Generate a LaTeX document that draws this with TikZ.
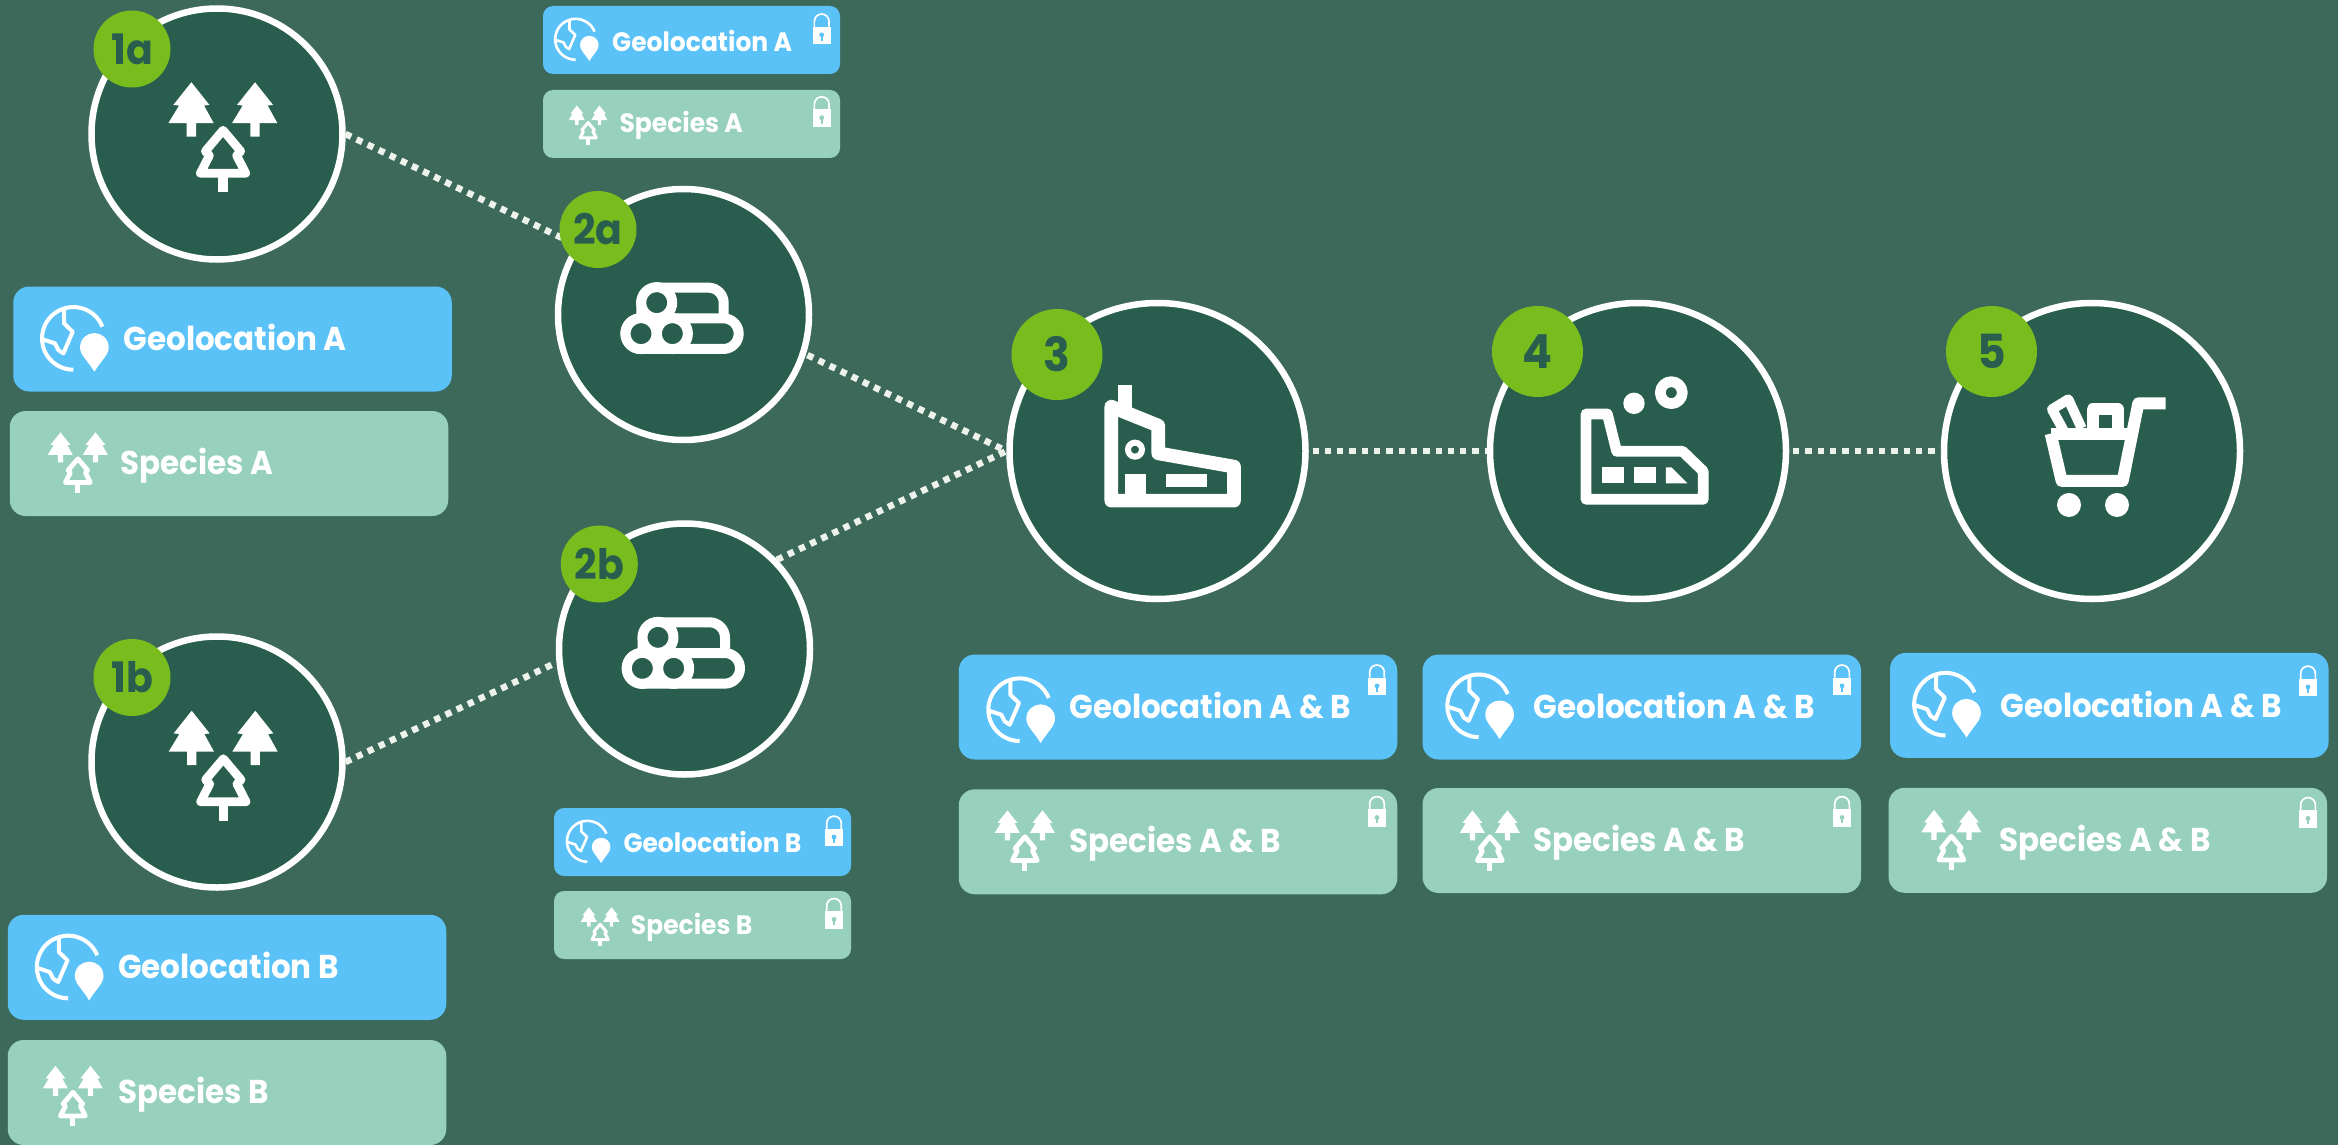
\documentclass[tikz,border=0pt]{standalone}
\usepackage{fontspec}
\setmainfont{Poppins}[FakeStretch=0.94]
\definecolor{bgc}{HTML}{3D695B}
\definecolor{darkc}{HTML}{295E4F}
\definecolor{badgec}{HTML}{78BC1E}
\definecolor{geoc}{HTML}{5BC2F8}
\definecolor{specc}{HTML}{97D1BD}
\definecolor{dotc}{HTML}{EDF3EA}
\tikzset{
  stage/.style={circle,draw=white,fill=darkc,line width=6.5pt,inner sep=0pt,minimum size=251pt,outer sep=3pt},
  stageb/.style={stage,minimum size=296pt},
  badge/.style={circle,fill=badgec,text=darkc,inner sep=0pt,minimum size=77pt,font=\fontsize{42}{42}\selectfont\bfseries},
  badgeb/.style={badge,minimum size=91pt,font=\fontsize{47}{47}\selectfont\bfseries},
  bigtag/.style={rectangle,rounded corners=16pt,minimum width=438.5pt,minimum height=105pt,inner sep=0pt},
  smalltag/.style={rectangle,rounded corners=10pt,minimum width=297pt,minimum height=68pt,inner sep=0pt},
  geotag/.style={fill=geoc},
  spectag/.style={fill=specc},
  bigtext/.style={anchor=base west,inner sep=0pt,text=white,font=\fontsize{33}{33}\selectfont\bfseries},
  smalltext/.style={anchor=base west,inner sep=0pt,text=white,font=\fontsize{26.6}{26.6}\selectfont\bfseries},
  dotline/.style={draw=dotc,line width=6.5pt,dash pattern=on 6.3pt off 6pt},
  iconfill/.style={fill=white,draw=none},
  iconline/.style={draw=white,line join=round,fill=none},
}
\newcommand\solidtree[1]{\fill[white,shift={(#1,0)}] (0,-162)--(54,-95)--(38,-93)--(67,-41)--(14,-41)--(14,-1)--(-14,-1)--(-14,-41)--(-69,-41)--(-37,-93)--(-54,-95)--cycle;}
% trees: centre x, centre y, scale
\newcommand\treeicon[3]{\begin{scope}[shift={(#1,#2)},x={#3*0.3333pt},y={-#3*0.338pt}]
  \solidtree{-94}\solidtree{97}
  \draw[iconline,line width={#3*8.7pt}] (1,-20)--(54,42)--(42,55)--(69,107)--(-67,107)--(-40,55)--(-52,42)--cycle;
  \fill[white] (-13,112) rectangle (15,163);
\end{scope}}
% globe: centre x, centre y, scale
\newcommand\globeicon[3]{\begin{scope}[shift={(#1,#2)},x={#3*0.3333pt},y={-#3*0.3333pt}]
  \draw[iconline,line width={#3*4pt}] plot[domain=22:270,samples=40] ({-4+94*cos(\x)},{-94*sin(\x)});
  \draw[iconline,line width={#3*4pt}] (-32,-88)--(-32,-45)--(-6,-20)--(-34,45)--(-49,35)--(-59,15)--(-96,3);
  \fill[white] (59,100) .. controls (38,65) and (16,50) .. (16,27) .. controls (16,0) and (38,-16) .. (59,-16) .. controls (80,-16) and (102,0) .. (102,27) .. controls (102,50) and (80,65) .. (59,100) -- cycle;
\end{scope}}
% lock: centre x, centre y, keyhole colour
\newcommand\lockicon[3]{\begin{scope}[shift={(#1,#2)},x=0.3333pt,y=-0.3333pt]
  \draw[iconline,line width=1.7pt] (-22,-7.5)--(-22,-23.5) .. controls (-22,-36) and (-12,-45.5) .. (0,-45.5) .. controls (12,-45.5) and (22,-36) .. (22,-23.5)--(22,-7.5);
  \fill[white] (-27.5,-7.5) rectangle (27.5,45.5);
  \fill[#3] (0,17) circle[radius=2.4pt];
  \fill[#3] (-3.5,17) rectangle (3.5,35);
\end{scope}}
\newcommand\logsicon[2]{\begin{scope}[shift={(#1,#2)},x=0.3333pt,y=-0.3333pt]
  \begin{scope}[shift={(-455,-955)}]
  \draw[iconline,line width=10pt,rounded corners=15.3pt] (334,955)--(334,863)--(581,863)--(581,955);
  \draw[iconline,line width=10pt,rounded corners=15.3pt] (456,955)--(626,955)--(626,1047)--(286,1047)--(286,955)--cycle;
  \draw[iconline,line width=10pt,fill=darkc] (380,908) circle[radius=15.5pt];
  \draw[iconline,line width=10pt,fill=darkc] (333,1001) circle[radius=15.5pt];
  \draw[iconline,line width=10pt,fill=darkc] (427,1001) circle[radius=15.5pt];
  \end{scope}
\end{scope}}
\begin{document}
\begin{tikzpicture}[x=1pt,y=-1pt]
\fill[bgc] (0,0) rectangle (2338,1145);
\useasboundingbox (0,0) rectangle (2338,1145);
% stages
\node[stage] (c1a) at (217,134) {};
\node[stage] (c1b) at (217,762) {};
\node[stage] (c2a) at (683.5,314.5) {};
\node[stage] (c2b) at (684.5,649) {};
\node[stageb] (c3) at (1157.5,451) {};
\node[stageb] (c4) at (1638,451) {};
\node[stageb] (c5) at (2092,451) {};
% connectors
\draw[dotline] (c1a.0) -- (c2a.147);
\draw[dotline] (c1b.0) -- (c2b.186);
\draw[dotline,shorten <=2pt] (c2a.-18) -- (c3.180);
\draw[dotline] (c2b.44) -- (c3.180);
\draw[dotline,shorten <=4pt] (c3.0) -- (c4.180);
\draw[dotline,shorten <=4pt] (c4.0) -- (c5.180);
% badges
\node[badge] (b1a) at (132,49) {1a};
\node[badge] (b1b) at (132,677.5) {1b};
\node[badge] (b2a) at (598,229.5) {2a};
\node[badge] (b2b) at (599.3,564) {2b};
\node[badgeb] (b3) at (1057,354.5) {3};
\node[badgeb] (b4) at (1537.5,351.5) {4};
\node[badgeb] (b5) at (1991.5,351.5) {5};
% tree icons in stages
\treeicon{222.7}{137}{1}
\treeicon{223}{765.5}{1}
% logs
\logsicon{681.7}{318.3}
\logsicon{683}{653}
% factory
\begin{scope}[shift={(980,280)},x=0.3333pt,y=-0.3333pt]
  \draw[iconline,line width=13.7pt] (394,380)--(535,437)--(535,520)--(762,560)--(762,662)--(394,662)--cycle;
  \fill[white] (414,315) rectangle (455,395);
  \draw[iconline,line width=6pt] (465,509) circle[radius=7pt];
  \fill[white] (435,582) rectangle (497,645);
  \fill[white] (557,582) rectangle (680,622);
\end{scope}
% sawmill / mill
\begin{scope}[shift={(1460,280)},x=0.3333pt,y=-0.3333pt]
  \draw[iconline,line width=10.7pt] (378,402)--(442,402)--(470,514)--(668,514)--(730,574)--(730,658)--(378,658)--cycle;
  \draw[iconline,line width=10.7pt] (634,338) circle[radius=11pt];
  \fill[white] (522,370) circle[radius=10.7pt];
  \fill[white] (425,562) rectangle (491,610);
  \fill[white] (521,562) rectangle (587,610);
  \fill[white] (618,562)--(634,562)--(682,610)--(618,610)--cycle;
\end{scope}
% cart
\begin{scope}[shift={(1930,280)},x=0.3333pt,y=-0.3333pt]
  \draw[iconline,line width=12pt] (362,461)--(610,461);
  \draw[iconline,line width=12pt] (362,461)--(395,603)--(578,603)--(625,370)--(707,370);
  \draw[iconline,line width=10pt] (400,450)--(366,388)--(415,358)--(455,445);
  \draw[iconline,line width=12pt] (488,445)--(488,388)--(563,388)--(563,445);
  \fill[white] (417,675) circle[radius=12pt];
  \fill[white] (561,675) circle[radius=12pt];
\end{scope}
% big tags, left
\node[bigtag,geotag] (g1a) at (232.5,339) {};
\globeicon{74.7}{338.4}{1}
\node[bigtext] (tg1a) at (123.3,350) {Geolocation A};
\node[bigtag,spectag] (s1a) at (229,463.5) {};
\treeicon{77.7}{462.5}{0.55}
\node[bigtext] (ts1a) at (120,474.7) {Species A};
\node[bigtag,geotag] (g1b) at (227,967.3) {};
\globeicon{69.5}{967}{1}
\node[bigtext] (tg1b) at (118,978.2) {Geolocation B};
\node[bigtag,spectag] (s1b) at (227,1092.5) {};
\treeicon{72.7}{1096}{0.55}
\node[bigtext] (ts1b) at (118,1103) {Species B};
% small tags
\node[smalltag,geotag] (g2a) at (691.5,40) {};
\globeicon{576.5}{39.3}{0.652}
\node[smalltext] (tg2a) at (612,51.7) {Geolocation A};
\lockicon{821.7}{29.2}{geoc}
\node[smalltag,spectag] (s2a) at (691.5,124) {};
\treeicon{588}{125}{0.355}
\node[smalltext] (ts2a) at (619.3,132.7) {Species A};
\lockicon{821.7}{112}{specc}
\node[smalltag,geotag] (g2b) at (702.5,842) {};
\globeicon{588.3}{841.3}{0.652}
\node[smalltext] (tg2b) at (623.3,852.3) {Geolocation B};
\lockicon{834}{831.3}{geoc}
\node[smalltag,spectag] (s2b) at (702.5,925) {};
\treeicon{600}{926.7}{0.355}
\node[smalltext] (ts2b) at (630.7,934.3) {Species B};
\lockicon{834}{913.7}{specc}
% row 3
\node[bigtag,geotag] (g3) at (1178,707) {};
\globeicon{1021}{709.7}{1}
\node[bigtext] (tg3) at (1069.3,718.7) {Geolocation A \& B};
\lockicon{1377}{680.2}{geoc}
\node[bigtag,spectag] (s3) at (1178,841.8) {};
\treeicon{1024.7}{840.5}{0.55}
\node[bigtext] (ts3) at (1069.3,852.7) {Species A \& B};
\lockicon{1377}{811.8}{specc}
% row 4
\node[bigtag,geotag] (g4) at (1641.8,707) {};
\globeicon{1480}{705.8}{1}
\node[bigtext] (tg4) at (1533.3,718.7) {Geolocation A \& B};
\lockicon{1842}{680.2}{geoc}
\node[bigtag,spectag] (s4) at (1641.8,840.5) {};
\treeicon{1489.7}{840.5}{0.55}
\node[bigtext] (ts4) at (1533.3,851.3) {Species A \& B};
\lockicon{1842}{811.8}{specc}
% row 5
\node[bigtag,geotag] (g5) at (2109.3,705.3) {};
\globeicon{1946.8}{704.2}{1}
\node[bigtext] (tg5) at (2000.3,717) {Geolocation A \& B};
\lockicon{2308}{681.3}{geoc}
\node[bigtag,spectag] (s5) at (2107.8,840.3) {};
\treeicon{1951.2}{840}{0.55}
\node[bigtext] (ts5) at (1999,851.3) {Species A \& B};
\lockicon{2308}{812.7}{specc}
\end{tikzpicture}
\end{document}
